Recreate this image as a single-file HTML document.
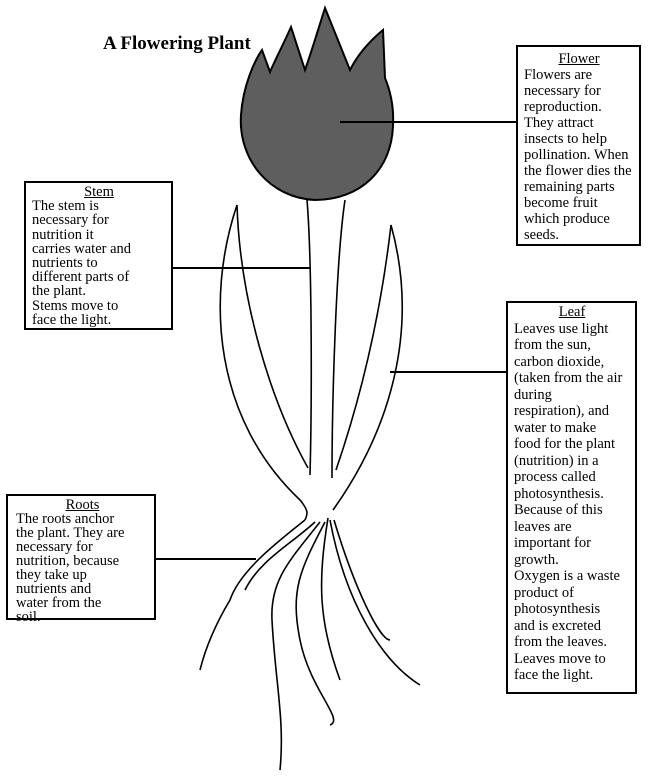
<!DOCTYPE html>
<html><head><style>
body{margin:0;width:651px;height:780px;background:#fff;position:relative;overflow:hidden;font-family:"Liberation Serif",serif;}
.box{position:absolute;border:2px solid #000;box-sizing:border-box;font-size:14.5px;padding:1px 5px 0 8px;color:#000;background:#fff;white-space:nowrap}
.box .t{text-align:center;text-decoration:underline}
h1{position:absolute;left:103px;top:33px;margin:0;font-size:19px;font-weight:bold}
svg{position:absolute;left:0;top:0}
</style></head><body>
<h1>A Flowering Plant</h1>
<svg width="651" height="780" viewBox="0 0 651 780" fill="none" stroke="#000" stroke-width="1.6">
<path d="M262,50 C255,60 243,85 241,115 C238,160 270,198 315,200 C360,200 392,170 393,125 C394,105 390,90 385,78 L383,30 C365,45 355,60 350,70 L325,8 C318,30 312,50 305,70 L291,27 C283,45 275,60 270,72 Z" fill="#5e5e5e" stroke-width="2"/>
<path d="M307,200 C312,260 312,400 310,475"/>
<path d="M345,200 C336,260 332,400 332,478"/>
<path d="M237,205 C205,300 215,420 300,500 C310,512 307,515 305,520"/>
<path d="M237,205 C240,300 270,400 308,468"/>
<path d="M391,225 C420,330 390,430 333,510"/>
<path d="M391,225 C380,320 360,400 336,470"/>
<path d="M305,520 C280,540 240,570 230,600 C215,625 205,650 200,670"/>
<path d="M315,522 C290,545 260,560 245,590"/>
<path d="M320,522 C290,560 270,580 272,620 C275,680 285,720 280,770"/>
<path d="M325,522 C300,570 290,590 300,640 C310,690 345,720 330,725"/>
<path d="M328,518 C318,580 318,620 340,680"/>
<path d="M330,520 C345,600 380,660 420,685"/>
<path d="M334,520 C355,590 380,640 390,640"/>
<path d="M340,122 H516 M172,268 H310 M390,372 H506 M155,559 H256" stroke-width="2"/>
</svg>
<div class="box" style="left:516px;top:45px;width:125px;height:201px;line-height:16px;padding-top:4px;padding-left:6px"><div class="t">Flower</div>Flowers are<br>necessary for<br>reproduction.<br>They attract<br>insects to help<br>pollination. When<br>the flower dies the<br>remaining parts<br>become fruit<br>which produce<br>seeds.</div>
<div class="box" style="left:24px;top:181px;width:149px;height:149px;line-height:14.2px;padding-top:2px;padding-left:6px"><div class="t">Stem</div>The stem is<br>necessary for<br>nutrition it<br>carries water and<br>nutrients to<br>different parts of<br>the plant.<br>Stems move to<br>face the light.</div>
<div class="box" style="left:506px;top:301px;width:131px;height:393px;line-height:16.5px;padding-left:6px"><div class="t">Leaf</div>Leaves use light<br>from the sun,<br>carbon dioxide,<br>(taken from the air<br>during<br>respiration), and<br>water to make<br>food for the plant<br>(nutrition) in a<br>process called<br>photosynthesis.<br>Because of this<br>leaves are<br>important for<br>growth.<br>Oxygen is a waste<br>product of<br>photosynthesis<br>and is excreted<br>from the leaves.<br>Leaves move to<br>face the light.</div>
<div class="box" style="left:6px;top:494px;width:150px;height:126px;line-height:14px;padding-top:2px"><div class="t">Roots</div>The roots anchor<br>the plant. They are<br>necessary for<br>nutrition, because<br>they take up<br>nutrients and<br>water from the<br>soil.</div>
</body></html>
